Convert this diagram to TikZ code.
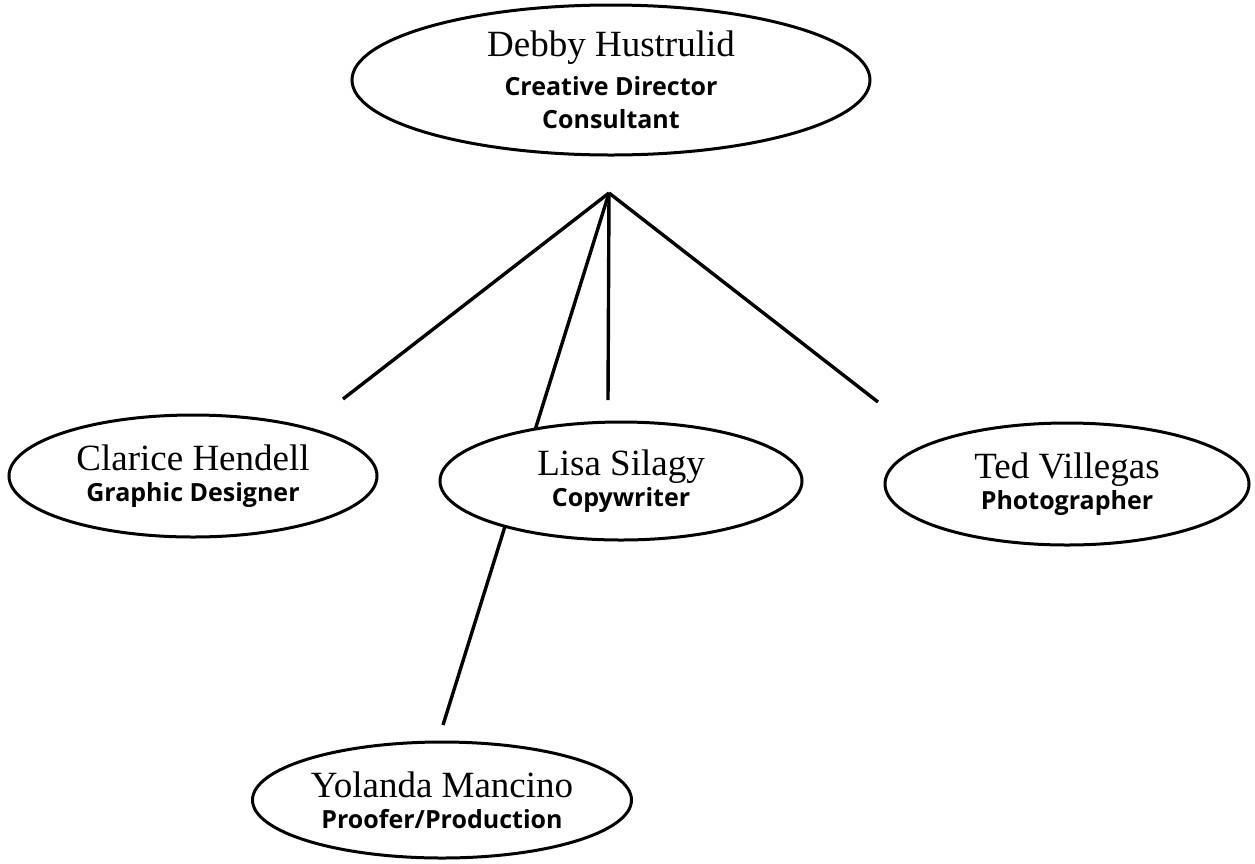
\documentclass[tikz,border=0pt]{standalone}
\usepackage{fontspec}
\usetikzlibrary{shapes.geometric}
\newfontfamily\namefont{Liberation Serif}
\newfontfamily\rolefont{Open Sans}
\tikzset{
  person/.style={ellipse, draw=black, line width=3pt, fill=white, inner sep=0pt,
    align=center, font=\fontsize{25}{33}\selectfont},
  link/.style={draw=black, line width=3.4pt},
}
\newcommand{\nm}[1]{{\namefont\fontsize{37}{37}\selectfont #1}}
\newcommand{\rl}[1]{{\rolefont\bfseries\fontsize{25}{33}\selectfont #1}}
\begin{document}
\begin{tikzpicture}[x=1pt,y=-1pt]
\useasboundingbox (0,0) rectangle (1255,863);
% connector end points
\coordinate (apex) at (609,193);
\coordinate (eClarice) at (343,399);
\coordinate (eLisa) at (608,400);
\coordinate (eTed) at (878,402);
\coordinate (eYolanda) at (443,725);
\draw[link] (apex) -- (eClarice);
\draw[link] (apex) -- (eLisa);
\draw[link] (apex) -- (eTed);
\draw[link] (apex) -- (eYolanda);
% people
\node[person, minimum width=518pt, minimum height=150pt] (debby) at (611,80)
  {\nm{Debby Hustrulid}\\[6pt]\rl{Creative Director}\\\rl{Consultant}};
\node[person, minimum width=368pt, minimum height=122pt] (clarice) at (193,476)
  {\nm{Clarice Hendell}\\[-2pt]\rl{Graphic Designer}};
\node[person, minimum width=362pt, minimum height=118pt] (lisa) at (621,481)
  {\nm{Lisa Silagy}\\[-2pt]\rl{Copywriter}};
\node[person, minimum width=364pt, minimum height=122pt] (ted) at (1067,484)
  {\nm{Ted Villegas}\\[-2pt]\rl{Photographer}};
\node[person, minimum width=379pt, minimum height=116pt] (yolanda) at (442,800)
  {\nm{Yolanda Mancino}\\[-2pt]\rl{Proofer/Production}};
\end{tikzpicture}
\end{document}
